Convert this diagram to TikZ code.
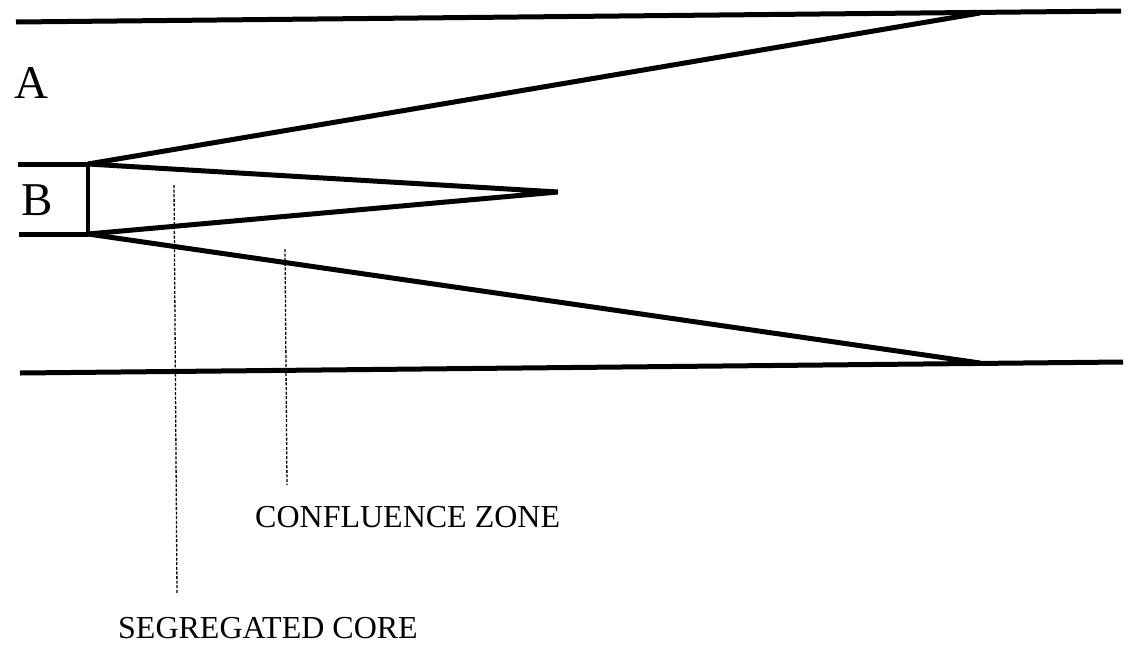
\documentclass[tikz,border=0pt]{standalone}
\usepackage{fontspec}
\setmainfont{Liberation Serif}
\begin{document}
\begin{tikzpicture}[x=1pt,y=-1pt,
  thick line/.style={line width=5pt,line cap=butt,line join=miter},
  mid line/.style={line width=3.5pt},
  guide/.style={line width=1.3pt,dash pattern=on 3pt off 1.6pt},
  label/.style={anchor=base west,inner sep=0pt,font=\fontsize{32}{38}\selectfont},
  big/.style={anchor=base west,inner sep=0pt,font=\fontsize{47}{56}\selectfont}]
\useasboundingbox[fill=white] (0,0) rectangle (1128,654);
% coordinates
\coordinate (TL) at (16,22);
\coordinate (TM) at (980,13);
\coordinate (TR) at (1121,11);
\coordinate (BL) at (20,373);
\coordinate (BM) at (980,363);
\coordinate (BR) at (1123,362);
\coordinate (UL) at (18,164);
\coordinate (P1) at (88,164);
\coordinate (LL) at (19,234);
\coordinate (P2) at (88,234);
\coordinate (tip) at (558,192);
\coordinate (d1a) at (174,185);
\coordinate (d1b) at (177,593);
\coordinate (d2a) at (285,249);
\coordinate (d2b) at (287,485);
% outer walls
\draw[thick line] (TL) -- (TR);
\draw[thick line] (BL) -- (BR);
% inlet B
\draw[thick line] (UL) -- (P1);
\draw[thick line] (LL) -- (P2);
\draw[mid line] (P1) -- (P2);
% spreading boundaries
\draw[thick line] (P1) -- (TM);
\draw[thick line] (P2) -- (BM);
\draw[thick line] (P1) -- (tip) -- (P2);
% guide lines
\draw[guide] (d1a) -- (d1b);
\draw[guide] (d2a) -- (d2b);
% labels
\node[big] (A) at (14,98) {A};
\node[big] (B) at (21,215) {B};
\node[label] (cz) at (255,527) {CONFLUENCE ZONE};
\node[label] (sc) at (118,638) {SEGREGATED CORE};
\end{tikzpicture}
\end{document}
